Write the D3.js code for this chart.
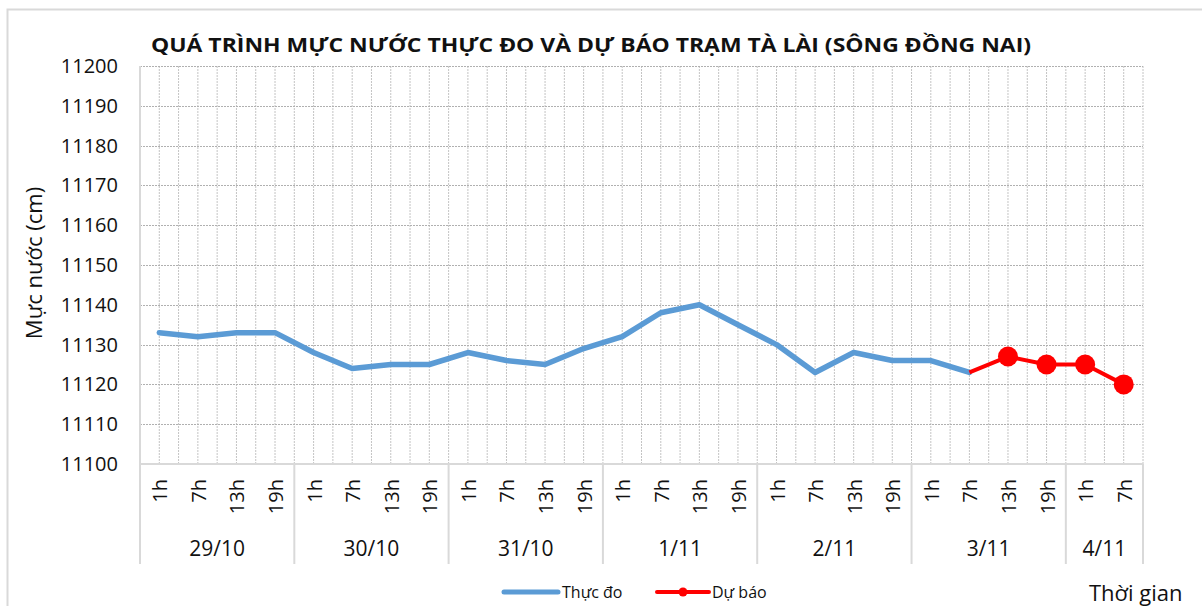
<!DOCTYPE html>
<html>
<head>
<meta charset="utf-8">
<script src="https://cdn.jsdelivr.net/npm/d3@7"></script>
<style>
  body { margin: 0; background: #fff; }
  text { font-family: 'Open Sans', 'DejaVu Sans', sans-serif; fill: #111; }
</style>
</head>
<body>
<div id="chart"></div>
<script>
// data
var days = ['29/10', '30/10', '31/10', '1/11', '2/11', '3/11', '4/11']
var hoursPerDay = [
  ['1h', '7h', '13h', '19h'],
  ['1h', '7h', '13h', '19h'],
  ['1h', '7h', '13h', '19h'],
  ['1h', '7h', '13h', '19h'],
  ['1h', '7h', '13h', '19h'],
  ['1h', '7h', '13h', '19h'],
  ['1h', '7h']
]
// measured (index 0..21)
var observed = [11133, 11132, 11133, 11133, 11128, 11124, 11125, 11125,
  11128, 11126, 11125, 11129, 11132, 11138, 11140, 11135,
  11130, 11123, 11128, 11126, 11126, 11123]
// forecast starts at 3/11 7h (index 21)
var forecastStart = 21
var forecast = [11123, 11127, 11125, 11125, 11120]
var yTicks = [11100, 11110, 11120, 11130, 11140, 11150, 11160, 11170, 11180, 11190, 11200]

var W = 1202
var H = 606
var pLeft = 140
var pRight = 1143
var pTop = 66
var pBottom = 464

// build flat categories
var cats = []
days.forEach(function (d, i) {
  hoursPerDay[i].forEach(function (h) {
    cats.push({ day: d, hour: h, key: d + '-' + h })
  })
})

var svg = d3.select('#chart')
  .append('svg')
  .attr('width', W)
  .attr('height', H)

// outer border
svg.append('rect')
  .attr('x', 7.5).attr('y', 9.5)
  .attr('width', 1200).attr('height', 620)
  .attr('fill', 'none')
  .attr('stroke', '#d9d9d9')
  .attr('stroke-width', 2)

var x = d3.scaleBand()
  .domain(cats.map(function (c) { return c.key }))
  .range([pLeft, pRight])
  .padding(0)
var bw = x.bandwidth()
var cx = function (i) { return x(cats[i].key) + bw / 2 }

var y = d3.scaleLinear()
  .domain([11100, 11200])
  .range([pBottom, pTop])

// vertical gridlines every half category
var vg = svg.append('g')
for (let i = 0; i < cats.length; i++) {
  let xs = [x(cats[i].key) + bw / 2, x(cats[i].key) + bw]
  xs.forEach(function (xx) {
    vg.append('line')
      .attr('x1', xx).attr('x2', xx)
      .attr('y1', pTop).attr('y2', pBottom)
      .attr('stroke', '#c4c4c4')
      .attr('stroke-width', 1)
      .attr('stroke-dasharray', '2,1')
  })
}

// horizontal gridlines
svg.append('g')
  .selectAll('line')
  .data(yTicks.slice(1))
  .enter()
  .append('line')
  .attr('x1', pLeft).attr('x2', pRight)
  .attr('y1', function (d) { return Math.round(y(d)) + 0.5 })
  .attr('y2', function (d) { return Math.round(y(d)) + 0.5 })
  .attr('stroke', '#b0b0b0')
  .attr('stroke-width', 1)
  .attr('stroke-dasharray', '2,1')

// left axis line
svg.append('line')
  .attr('x1', pLeft).attr('x2', pLeft)
  .attr('y1', pTop).attr('y2', 564)
  .attr('stroke', '#d9d9d9')
  .attr('stroke-width', 2)

// y tick labels
var yAxis = d3.axisLeft(y).tickValues(yTicks).tickSize(0).tickPadding(22)
  .tickFormat(d3.format('d'))
var ya = svg.append('g')
  .attr('transform', 'translate(' + pLeft + ',0)')
  .call(yAxis)
ya.select('.domain').remove()
ya.selectAll('text')
  .style('font-family', "'Open Sans', sans-serif")
  .style('font-size', '20px')
  .attr('fill', '#111')

svg.append('text')
  .attr('transform', 'translate(42,263) rotate(-90)')
  .attr('text-anchor', 'middle')
  .style('font-size', '22px')
  .text('Mực nước (cm)')

// category axis box
svg.append('line')
  .attr('x1', pLeft).attr('x2', pRight)
  .attr('y1', pBottom).attr('y2', pBottom)
  .attr('stroke', '#d9d9d9')
  .attr('stroke-width', 2)

var idx = 0
days.forEach(function (d, i) {
  let n = hoursPerDay[i].length
  let x0 = x(cats[idx].key)
  let x1 = x(cats[idx + n - 1].key) + bw
  svg.append('line')
    .attr('x1', x1).attr('x2', x1)
    .attr('y1', pBottom).attr('y2', 564)
    .attr('stroke', '#d9d9d9')
    .attr('stroke-width', 2)
  svg.append('text')
    .attr('x', (x0 + x1) / 2)
    .attr('y', 556)
    .attr('text-anchor', 'middle')
    .style('font-size', '21px')
    .text(d)
  idx += n
})

// hour labels
svg.append('g')
  .selectAll('text')
  .data(cats)
  .enter()
  .append('text')
  .attr('transform', function (c, i) {
    return 'translate(' + (cx(i) + 8) + ',479) rotate(-90)'
  })
  .attr('text-anchor', 'end')
  .style('font-size', '20px')
  .text(function (c) { return c.hour })

// observed line
var line = d3.line()
  .x(function (d) { return d[0] })
  .y(function (d) { return y(d[1]) })

var obsPts = observed.map(function (v, i) { return [cx(i), v] })
svg.append('path')
  .attr('d', line(obsPts))
  .attr('fill', 'none')
  .attr('stroke', '#5b9bd5')
  .attr('stroke-width', 5.5)
  .attr('stroke-linejoin', 'round')
  .attr('stroke-linecap', 'round')

// forecast line
var fcPts = forecast.map(function (v, i) { return [cx(forecastStart + i), v] })
svg.append('path')
  .attr('d', line(fcPts))
  .attr('fill', 'none')
  .attr('stroke', '#ff0000')
  .attr('stroke-width', 4)
  .attr('stroke-linejoin', 'round')

svg.append('g')
  .selectAll('circle')
  .data(fcPts.slice(1))
  .enter()
  .append('circle')
  .attr('cx', function (d) { return d[0] })
  .attr('cy', function (d) { return y(d[1]) })
  .attr('r', 10)
  .attr('fill', '#ff0000')

// title
svg.append('text')
  .attr('x', 591)
  .attr('y', 52)
  .attr('text-anchor', 'middle')
  .attr('textLength', 880)
  .attr('lengthAdjust', 'spacingAndGlyphs')
  .style('font-size', '20px')
  .style('font-weight', 'bold')
  .text('QUÁ TRÌNH MỰC NƯỚC THỰC ĐO VÀ DỰ BÁO TRẠM TÀ LÀI (SÔNG ĐỒNG NAI)')

// legend
var lg = svg.append('g')
lg.append('line')
  .attr('x1', 504).attr('x2', 558)
  .attr('y1', 592).attr('y2', 592)
  .attr('stroke', '#5b9bd5')
  .attr('stroke-width', 5)
  .attr('stroke-linecap', 'round')
lg.append('text')
  .attr('x', 562).attr('y', 598)
  .style('font-size', '16px')
  .text('Thực đo')
lg.append('line')
  .attr('x1', 657).attr('x2', 709)
  .attr('y1', 592).attr('y2', 592)
  .attr('stroke', '#ff0000')
  .attr('stroke-width', 4)
  .attr('stroke-linecap', 'round')
lg.append('circle')
  .attr('cx', 683).attr('cy', 592).attr('r', 4.5)
  .attr('fill', '#ff0000')
lg.append('text')
  .attr('x', 712).attr('y', 598)
  .style('font-size', '16px')
  .text('Dự báo')

svg.append('text')
  .attr('x', 1089).attr('y', 601)
  .style('font-size', '22px')
  .text('Thời gian')
</script>
</body>
</html>
